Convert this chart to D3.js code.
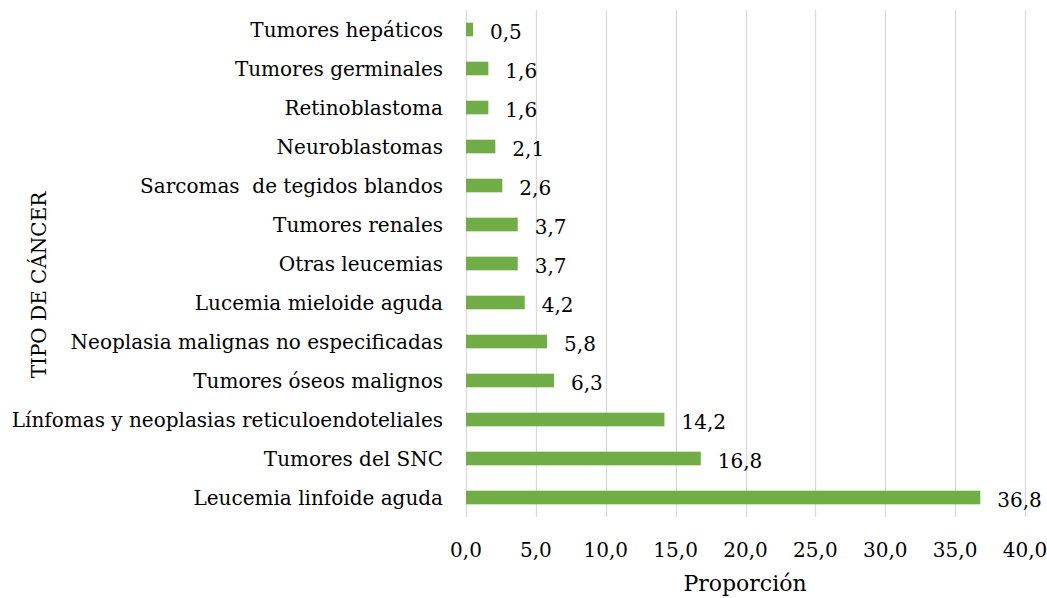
<!DOCTYPE html>
<html>
<head>
<meta charset="utf-8">
<script src="https://cdn.jsdelivr.net/npm/d3@7"></script>
<style>
  body { margin: 0; background: #fff; }
  text { font-family: "DejaVu Serif", serif; fill: #000; white-space: pre; }
</style>
</head>
<body>
<svg class="chart"></svg>
<script>
let width = 1047;
let height = 598;

// Categories from top to bottom, and their values
let categories = [
  "Tumores hepáticos",
  "Tumores germinales",
  "Retinoblastoma",
  "Neuroblastomas",
  "Sarcomas  de tegidos blandos",
  "Tumores renales",
  "Otras leucemias",
  "Lucemia mieloide aguda",
  "Neoplasia malignas no especificadas",
  "Tumores óseos malignos",
  "Línfomas y neoplasias reticuloendoteliales",
  "Tumores del SNC",
  "Leucemia linfoide aguda"
];
let values = [0.5, 1.6, 1.6, 2.1, 2.6, 3.7, 3.7, 4.2, 5.8, 6.3, 14.2, 16.8, 36.8];
let ticks = [0, 5, 10, 15, 20, 25, 30, 35, 40];

let fmt = function(v, digits) {
  return v.toFixed(digits).replace(".", ",");
};

let svg = d3.select(".chart")
  .attr("width", width)
  .attr("height", height);

let x = d3.scaleLinear()
  .domain([0, 40])
  .range([466, 1025]);

let y = d3.scaleBand()
  .domain(categories)
  .range([10, 517])
  .paddingInner(0.65)
  .paddingOuter(0.325);

// gridlines
svg.append("g")
  .selectAll("line")
  .data(ticks)
  .enter().append("line")
  .attr("x1", function(d) { return Math.round(x(d)) + 0.5; })
  .attr("x2", function(d) { return Math.round(x(d)) + 0.5; })
  .attr("y1", 10)
  .attr("y2", 517)
  .attr("stroke", "#d9d9d9")
  .attr("stroke-width", 1.3);

// bars
svg.append("g")
  .selectAll("rect")
  .data(values)
  .enter().append("rect")
  .attr("x", x(0))
  .attr("y", function(d, i) { return y(categories[i]); })
  .attr("width", function(d) { return x(d) - x(0); })
  .attr("height", y.bandwidth())
  .attr("fill", "#70ad47");

// value labels
svg.append("g")
  .selectAll("text")
  .data(values)
  .enter().append("text")
  .attr("x", function(d) { return x(d) + 17; })
  .attr("y", function(d, i) { return y(categories[i]) + y.bandwidth() / 2 + 2; })
  .attr("dy", "0.35em")
  .style("font-size", "20px")
  .text(function(d) { return fmt(d, 1); });

// category labels
svg.append("g")
  .selectAll("text")
  .data(categories)
  .enter().append("text")
  .attr("x", 443)
  .attr("y", function(d) { return y(d) + y.bandwidth() / 2; })
  .attr("dy", "0.35em")
  .attr("text-anchor", "end")
  .style("font-size", "20px")
  .text(function(d) { return d; });

// x tick labels
svg.append("g")
  .selectAll("text")
  .data(ticks)
  .enter().append("text")
  .attr("x", function(d) { return x(d); })
  .attr("y", 557)
  .attr("text-anchor", "middle")
  .style("font-size", "20px")
  .text(function(d) { return fmt(d, 1); });

// axis titles
svg.append("text")
  .attr("x", 745)
  .attr("y", 591)
  .attr("text-anchor", "middle")
  .style("font-size", "22px")
  .text("Proporción");

svg.append("text")
  .attr("transform", "translate(46,285) rotate(-90)")
  .attr("text-anchor", "middle")
  .style("font-size", "20px")
  .text("TIPO DE CÁNCER");
</script>
</body>
</html>
